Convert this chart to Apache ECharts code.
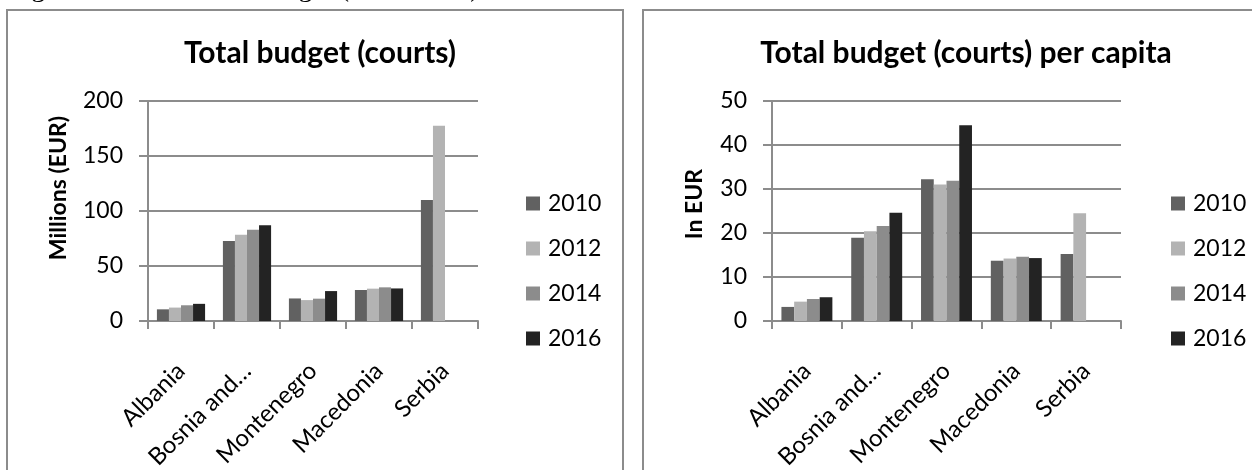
<!DOCTYPE html>
<html>
<head>
<meta charset="utf-8">
<script src="https://cdn.jsdelivr.net/npm/echarts@6/dist/echarts.min.js"></script>
<style>
  html, body { margin: 0; padding: 0; background: #fff; }
  #main { width: 1252px; height: 470px; }
</style>
</head>
<body>
<div id="main"></div>
<script>
// courts budget, two panels side by side
var countries = ['Albania', 'Bosnia and…', 'Montenegro', 'Macedonia', 'Serbia'];
var years = ['2010', '2012', '2014', '2016'];
var yearColors = ['#616161', '#b3b3b3', '#8c8c8c', '#232323'];

// Millions (EUR)
var total2010 = [10.6, 72.7, 20.5, 28.2, 110];
var total2012 = [12.2, 78.5, 19.0, 29.4, 177.5];
var total2014 = [14.3, 83.0, 20.3, 30.6, null];
var total2016 = [15.6, 87.0, 27.2, 29.6, null];

// In EUR per capita
var capita2010 = [3.2, 18.9, 32.2, 13.7, 15.2];
var capita2012 = [4.4, 20.4, 31.0, 14.2, 24.5];
var capita2014 = [5.0, 21.6, 31.9, 14.6, null];
var capita2016 = [5.4, 24.6, 44.5, 14.3, null];

var totalTicks = [0, 50, 100, 150, 200];
var capitaTicks = [0, 10, 20, 30, 40, 50];

var totalSets = [total2010, total2012, total2014, total2016];
var capitaSets = [capita2010, capita2012, capita2014, capita2016];

var chart = echarts.init(document.getElementById('main'));
var font = 'Lato';
var axisGray = '#8c8c8c';

function makeXAxis(gridIndex) {
    return {
        type: 'category',
        gridIndex: gridIndex,
        data: countries,
        axisLine: { lineStyle: { color: axisGray, width: 2 } },
        axisTick: { show: true, length: 8, lineStyle: { color: axisGray, width: 2 } },
        axisLabel: { interval: 0, rotate: 45, margin: 46, color: '#000', fontFamily: font, fontSize: 24 }
    };
}

function makeYAxis(gridIndex, ticks, name, gap, pad) {
    return {
        type: 'value',
        gridIndex: gridIndex,
        min: ticks[0],
        max: ticks[ticks.length - 1],
        interval: ticks[1] - ticks[0],
        name: name,
        nameLocation: 'middle',
        nameRotate: 90,
        nameGap: gap,
        nameTextStyle: { fontFamily: font, fontSize: 23, fontWeight: 'bold', color: '#000', padding: pad },
        axisLine: { show: true, lineStyle: { color: axisGray, width: 2 } },
        axisTick: { show: true, length: 9, lineStyle: { color: axisGray, width: 2 } },
        axisLabel: { margin: 25, color: '#000', fontFamily: font, fontSize: 23 },
        splitLine: { lineStyle: { color: axisGray, width: 2 } }
    };
}

var series = [];
years.forEach(function (y, i) {
    series.push({
        name: y, type: 'bar', xAxisIndex: 0, yAxisIndex: 0,
        data: totalSets[i], itemStyle: { color: yearColors[i] },
        barGap: '0%', barCategoryGap: '27%'
    });
});
years.forEach(function (y, i) {
    series.push({
        name: y, type: 'bar', xAxisIndex: 1, yAxisIndex: 1,
        data: capitaSets[i], itemStyle: { color: yearColors[i] },
        barGap: '0%', barCategoryGap: '27%'
    });
});

function makeLegend(left) {
    return {
        orient: 'vertical',
        left: left,
        top: 187,
        itemWidth: 14,
        itemHeight: 14,
        itemGap: 22,
        icon: 'rect',
        data: years,
        textStyle: { fontFamily: font, fontSize: 23, color: '#000', lineHeight: 23, padding: [0, 0, 0, 3] }
    };
}

var option = {
    animation: false,
    backgroundColor: '#fff',
    graphic: [
        {
            type: 'text', x: 8, y: -25,
            style: {
                text: 'Figure 3: Total courts budget (2010-2016)',
                font: '28px "Liberation Serif"', fill: '#000'
            }
        },
        {
            type: 'rect', shape: { x: 7, y: 10, width: 616, height: 480 },
            style: { fill: 'none', stroke: '#8c8c8c', lineWidth: 2 }
        },
        {
            type: 'rect', shape: { x: 643, y: 10, width: 640, height: 480 },
            style: { fill: 'none', stroke: '#8c8c8c', lineWidth: 2 }
        }
    ],
    title: [
        {
            text: 'Total budget (courts)', left: 315, top: 33, textAlign: 'center',
            textStyle: { fontFamily: font, fontSize: 30, fontWeight: 'bold', color: '#000' }
        },
        {
            text: 'Total budget (courts) per capita', left: 961, top: 33, textAlign: 'center',
            textStyle: { fontFamily: font, fontSize: 30, fontWeight: 'bold', color: '#000' }
        }
    ],
    legend: [makeLegend(521), makeLegend(1166)],
    grid: [
        { left: 148, right: 774, top: 101, bottom: 149, outerBoundsMode: 'none' },
        { left: 772, right: 131, top: 101, bottom: 149, outerBoundsMode: 'none' }
    ],
    xAxis: [makeXAxis(0), makeXAxis(1)],
    yAxis: [
        makeYAxis(0, totalTicks, 'Millions (EUR)', 78, [0, 0, 0, 46]),
        makeYAxis(1, capitaTicks, 'In EUR', 66, [0, 0, 0, 14])
    ],
    series: series
};

chart.setOption(option);
</script>
</body>
</html>
